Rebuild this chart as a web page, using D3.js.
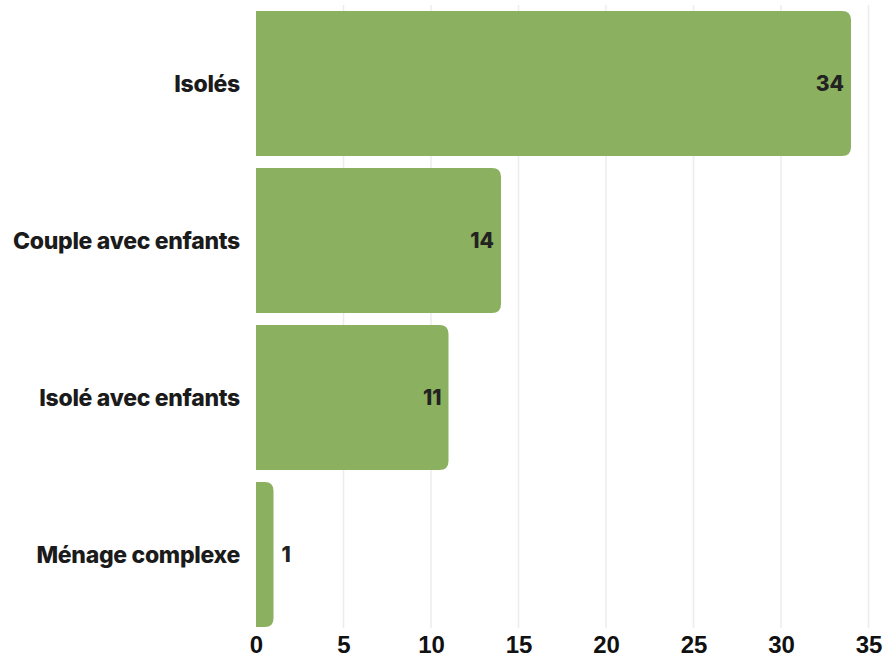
<!DOCTYPE html>
<html>
<head>
<meta charset="utf-8">
<script src="https://cdn.jsdelivr.net/npm/d3@7"></script>
<style>
  body { margin: 0; background: #fff; }
  svg { display: block; font-family: Inter, "Noto Sans", sans-serif; }
  .cat { font-size: 23px; font-weight: 800; fill: #1b1b1b; letter-spacing: -0.3px; }
  .val { font-size: 21px; font-weight: 800; fill: #222; }
  .x-axis text { font-size: 24px; font-weight: 900; fill: #111; }
</style>
</head>
<body>
<div id="chart"></div>
<script>
var categories = ["Isolés", "Couple avec enfants", "Isolé avec enfants", "Ménage complexe"];
var values = [34, 14, 11, 1];
var xTicks = [0, 5, 10, 15, 20, 25, 30, 35];

var width = 888,
    height = 658;

var x = d3.scaleLinear()
  .domain([0, 35])
  .range([256, 868.5]);

var y = d3.scaleBand()
  .domain(categories)
  .range([5, 633])
  .paddingInner(0.076)
  .paddingOuter(0.038);

var svg = d3.select("#chart").append("svg")
  .attr("width", width)
  .attr("height", height);

// gridlines
svg.append("g")
  .selectAll("line")
  .data(xTicks.slice(1))
  .enter().append("line")
    .attr("x1", function(d) { return x(d); })
    .attr("x2", function(d) { return x(d); })
    .attr("y1", 5)
    .attr("y2", 628)
    .attr("stroke", "#ececec")
    .attr("stroke-width", 1.5);

// bars, rounded on the right side only
function barPath(d, i) {
  var x0 = x(0), x1 = x(d), y0 = y(categories[i]), h = y.bandwidth();
  var r = Math.min(9, (x1 - x0) / 2);
  return "M" + x0 + "," + y0 +
    "H" + (x1 - r) +
    "Q" + x1 + "," + y0 + " " + x1 + "," + (y0 + r) +
    "V" + (y0 + h - r) +
    "Q" + x1 + "," + (y0 + h) + " " + (x1 - r) + "," + (y0 + h) +
    "H" + x0 + "Z";
}

svg.append("g")
  .selectAll("path")
  .data(values)
  .enter().append("path")
    .attr("d", barPath)
    .attr("fill", "#8bb060");

// value labels
svg.append("g")
  .selectAll("text")
  .data(values)
  .enter().append("text")
    .attr("class", "val")
    .attr("x", function(d) { return d > 3 ? x(d) - 7 : x(d) + 8; })
    .attr("y", function(d, i) { return y(categories[i]) + y.bandwidth() / 2; })
    .attr("dy", "0.36em")
    .attr("text-anchor", function(d) { return d > 3 ? "end" : "start"; })
    .text(function(d) { return d; });

// category labels
svg.append("g")
  .selectAll("text")
  .data(categories)
  .enter().append("text")
    .attr("class", "cat")
    .attr("x", 240)
    .attr("y", function(d) { return y(d) + y.bandwidth() / 2; })
    .attr("dy", "0.36em")
    .attr("text-anchor", "end")
    .text(function(d) { return d; });

// x axis
var xAxis = d3.axisBottom(x)
  .tickValues(xTicks)
  .tickSize(0)
  .tickPadding(0);

svg.append("g")
  .attr("class", "x-axis")
  .attr("transform", "translate(0,636)")
  .call(xAxis)
  .call(function(g) { g.select(".domain").remove(); })
  .selectAll("text")
    .attr("dy", "0.72em");
</script>
</body>
</html>
